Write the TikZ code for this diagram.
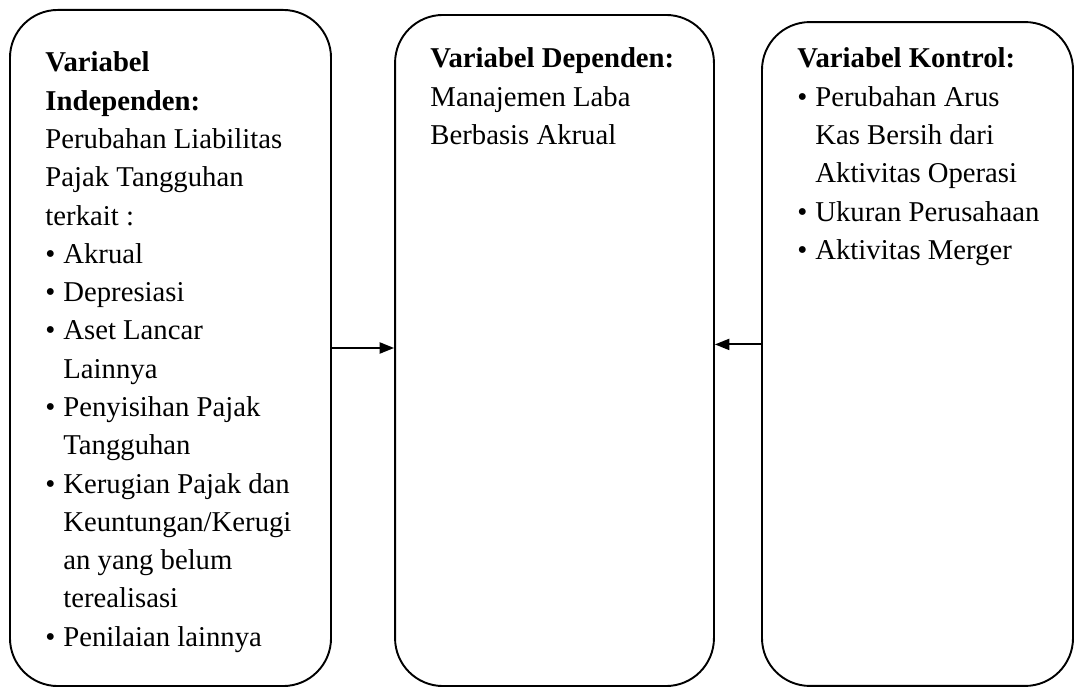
\documentclass[tikz,border=0pt]{standalone}
\usepackage{fontspec}
\setmainfont{Liberation Serif}
\usepackage{tikz}
\usetikzlibrary{arrows.meta}

% bullet and hanging indent for list lines
\newcommand{\bul}{\makebox[7.5pt][l]{\textbullet}}
\newcommand{\ind}{\hspace*{7.5pt}}

\begin{document}
\begin{tikzpicture}[
    x=0.418pt, y=-0.418pt,
    varbox/.style  = {draw=black, line width=0.8pt, rounded corners=20pt,
                      inner sep=0pt},
    vartext/.style = {anchor=base west, inner sep=0pt, text width=135pt,
                      align=flush left, font={\fontsize{12pt}{16pt}\selectfont}},
    arr/.style     = {-{Triangle[length=6pt,width=4.6pt]}, line width=0.8pt}
  ]
  \useasboundingbox (0,0) rectangle (1075,687);

  % ----------------------------------------------------------------
  % Three variable boxes (independent, dependent, control)
  % ----------------------------------------------------------------
  \node[varbox, minimum width=134.2pt, minimum height=282.6pt]
        (indep) at (170.5,348) {};
  \node[varbox, minimum width=133.3pt, minimum height=280.5pt]
        (dep) at (554.5,350.5) {};
  \node[varbox, minimum width=130.0pt, minimum height=277.5pt]
        (kontrol) at (917.5,354) {};

  % ----------------------------------------------------------------
  % Box texts, first baseline near the top
  % ----------------------------------------------------------------
  \node[vartext] (indeptxt) at (45,72) {%
    \textbf{Variabel}\\
    \textbf{Independen:}\\
    Perubahan Liabilitas\\
    Pajak Tangguhan\\
    terkait :\\
    \bul Akrual\\
    \bul Depresiasi\\
    \bul Aset Lancar\\
    \ind Lainnya\\
    \bul Penyisihan Pajak\\
    \ind Tangguhan\\
    \bul Kerugian Pajak dan\\
    \ind Keuntungan/Kerugi\\
    \ind an yang belum\\
    \ind terealisasi\\
    \bul Penilaian lainnya};

  \node[vartext] (deptxt) at (430,68) {%
    \textbf{Variabel Dependen:}\\
    Manajemen Laba\\
    Berbasis Akrual};

  \node[vartext] (kontroltxt) at (797,68) {%
    \textbf{Variabel Kontrol:}\\
    \bul Perubahan Arus\\
    \ind Kas Bersih dari\\
    \ind Aktivitas Operasi\\
    \bul Ukuran Perusahaan\\
    \bul Aktivitas Merger};

  % ----------------------------------------------------------------
  % Arrows into the dependent box (horizontal)
  % ----------------------------------------------------------------
  \draw[arr] (indep.east) -- (indep.east -| dep.west);
  \draw[arr] ([yshift=4pt]kontrol.west) -- ([yshift=4pt]kontrol.west -| dep.east);

\end{tikzpicture}
\end{document}
